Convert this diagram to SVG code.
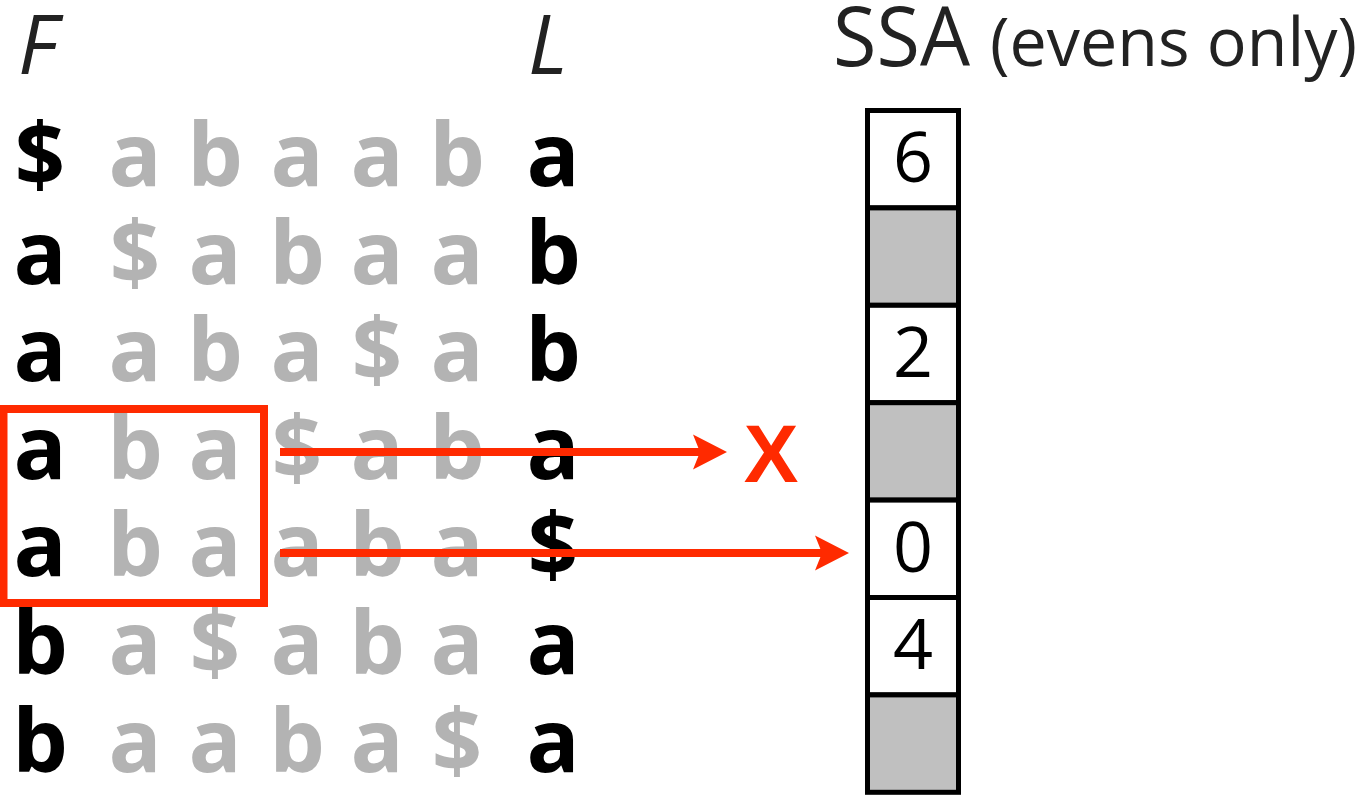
<svg xmlns="http://www.w3.org/2000/svg" width="1359" height="795" viewBox="0 0 1359 795">
<style>
.hdr{font-family:"Open Sans","Liberation Sans",sans-serif;font-style:italic;font-size:82px;fill:#222}
.t{font-family:"Open Sans","Liberation Sans",sans-serif;font-weight:700;font-size:88px;text-anchor:middle}
.k{fill:#000}
.g{fill:#b3b3b3}
.ttl{font-family:"Open Sans","Liberation Sans",sans-serif;fill:#222}
.cell{stroke:#000;stroke-width:5}
.w{fill:#fff}
.gr{fill:#c0c0c0}
.num{font-family:"Open Sans","Liberation Sans",sans-serif;font-size:70px;text-anchor:middle;fill:#000}
.red{stroke:#ff2a00;stroke-width:8;fill:none}
.head{fill:#ff2a00}
</style>
<g id="headers">
<text class="hdr" x="18" y="74">F</text>
<text class="hdr" x="528" y="74">L</text>
<text class="ttl" x="833" y="66" font-size="82" textLength="137" lengthAdjust="spacingAndGlyphs">SSA</text>
<text class="ttl" x="990" y="66" font-size="67" textLength="367" lengthAdjust="spacingAndGlyphs">(evens only)</text>
</g>
<g id="matrix">
<g id="row1"><text class="t k" x="40" y="186">$</text><text class="t g" x="135" y="186">a</text><text class="t g" x="215" y="186">b</text><text class="t g" x="297" y="186">a</text><text class="t g" x="377" y="186">a</text><text class="t g" x="457" y="186">b</text><text class="t k" x="553" y="186">a</text></g>
<g id="row2"><text class="t k" x="40" y="283.6">a</text><text class="t g" x="135" y="283.6">$</text><text class="t g" x="215" y="283.6">a</text><text class="t g" x="297" y="283.6">b</text><text class="t g" x="377" y="283.6">a</text><text class="t g" x="457" y="283.6">a</text><text class="t k" x="553" y="283.6">b</text></g>
<g id="row3"><text class="t k" x="40" y="381.2">a</text><text class="t g" x="135" y="381.2">a</text><text class="t g" x="215" y="381.2">b</text><text class="t g" x="297" y="381.2">a</text><text class="t g" x="377" y="381.2">$</text><text class="t g" x="457" y="381.2">a</text><text class="t k" x="553" y="381.2">b</text></g>
<g id="row4"><text class="t k" x="40" y="478.8">a</text><text class="t g" x="135" y="478.8">b</text><text class="t g" x="215" y="478.8">a</text><text class="t g" x="297" y="478.8">$</text><text class="t g" x="377" y="478.8">a</text><text class="t g" x="457" y="478.8">b</text><text class="t k" x="553" y="478.8">a</text></g>
<g id="row5"><text class="t k" x="40" y="576.4">a</text><text class="t g" x="135" y="576.4">b</text><text class="t g" x="215" y="576.4">a</text><text class="t g" x="297" y="576.4">a</text><text class="t g" x="377" y="576.4">b</text><text class="t g" x="457" y="576.4">a</text><text class="t k" x="553" y="576.4">$</text></g>
<g id="row6"><text class="t k" x="40" y="674">b</text><text class="t g" x="135" y="674">a</text><text class="t g" x="215" y="674">$</text><text class="t g" x="297" y="674">a</text><text class="t g" x="377" y="674">b</text><text class="t g" x="457" y="674">a</text><text class="t k" x="553" y="674">a</text></g>
<g id="row7"><text class="t k" x="40" y="771.6">b</text><text class="t g" x="135" y="771.6">a</text><text class="t g" x="215" y="771.6">a</text><text class="t g" x="297" y="771.6">b</text><text class="t g" x="377" y="771.6">a</text><text class="t g" x="457" y="771.6">$</text><text class="t k" x="553" y="771.6">a</text></g>
</g>
<g id="ssa">
<rect class="cell w" x="867.5" y="110.5" width="91" height="97.4"/>
<rect class="cell gr" x="867.5" y="207.9" width="91" height="97.4"/>
<rect class="cell w" x="867.5" y="305.3" width="91" height="97.4"/>
<rect class="cell gr" x="867.5" y="402.7" width="91" height="97.4"/>
<rect class="cell w" x="867.5" y="500.1" width="91" height="97.4"/>
<rect class="cell w" x="867.5" y="597.5" width="91" height="97.4"/>
<rect class="cell gr" x="867.5" y="694.9" width="91" height="97.4"/>
<text class="num" x="913" y="182">6</text>
<text class="num" x="913" y="377">2</text>
<text class="num" x="913" y="571.5">0</text>
<text class="num" x="913" y="669">4</text>
</g>
<g id="highlight">
<rect class="red" x="3.5" y="409" width="260.5" height="194" stroke-width="7"/>
</g>
<g id="connectors">
<line class="red" x1="280" y1="452" x2="705" y2="452"/>
<path class="head" d="M693,434.5 L727,452 L693,469.5 L700,452 Z"/>
<line class="red" x1="280" y1="553" x2="827" y2="553"/>
<path class="head" d="M815,535.5 L849,553 L815,570.5 L822,553 Z"/>
</g>
<g id="x-mark">
<text x="771" y="482" font-family="'Liberation Sans',sans-serif" font-weight="700" font-size="82" text-anchor="middle" fill="#ff2a00">X</text>
</g>
</svg>
